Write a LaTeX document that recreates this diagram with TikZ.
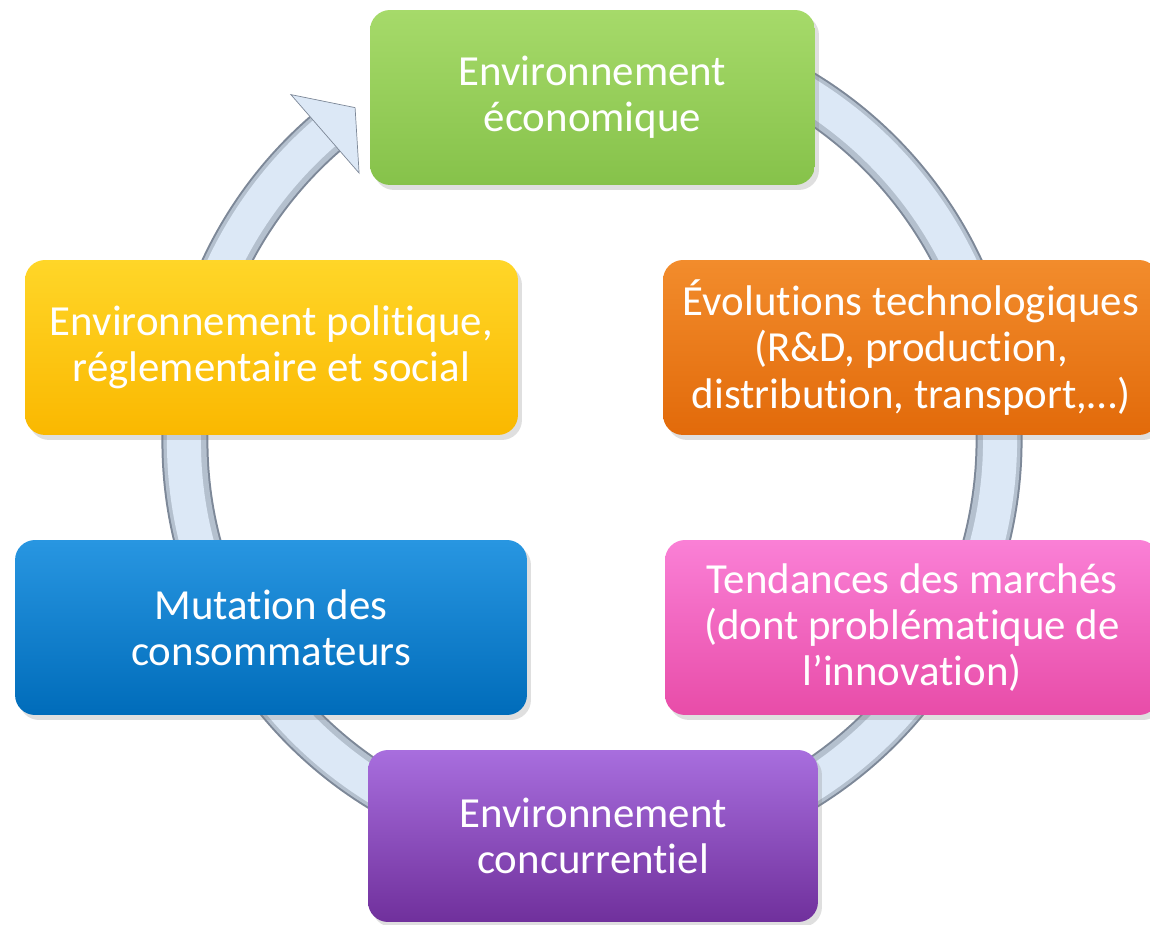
\documentclass[tikz,border=0pt]{standalone}
\usepackage{fontspec}
\setmainfont{Carlito}[Ligatures=NoCommon]
\usepackage{tikz}
\usetikzlibrary{calc}
\usetikzlibrary{shadows}

\definecolor{ringdark}{HTML}{7D8898}
\definecolor{ringmid}{HTML}{B4C0CE}
\definecolor{ringlight}{HTML}{DCE8F6}

\begin{document}
\begin{tikzpicture}[x=0.02cm, y=-0.02cm,
    cell/.style={rounded corners=0.4cm, align=center, text=white,
        font=\fontsize{24.4}{26.4}\selectfont, inner sep=0pt,
        drop shadow={opacity=0.25, shadow xshift=0.08cm, shadow yshift=-0.1cm}}]
    % Define the ring
    \def\r{407}  % mid radius of the ring
    \useasboundingbox (0,0) rectangle (1150,925);
    \coordinate (O) at (592,441);

    % Draw the circular arrow
    \draw[ringdark, line width=0.94cm] ($(O)+(-80:\r)$) arc[start angle=-80, end angle=229, radius=\r];
    \draw[ringmid, line width=0.86cm] ($(O)+(-80:\r)$) arc[start angle=-80, end angle=229, radius=\r];
    \draw[ringlight, line width=0.68cm] ($(O)+(-80:\r+1)$) arc[start angle=-80, end angle=229, radius=\r+1];
    \coordinate (H1) at ($(O)+(229:\r-52)$);
    \coordinate (H2) at ($(O)+(229:\r+52)$);
    \coordinate (T) at ($(O)+(234.6:\r+2)$);
    \draw[ringdark, fill=ringlight, line join=miter] (H1) -- (T) -- (H2) -- cycle;

    % Draw the boxes
    \node[cell, minimum width=8.9cm, minimum height=3.5cm, top color={rgb,255:red,166;green,218;blue,106}, bottom color={rgb,255:red,134;green,194;blue,74}]
        (eco) at (592.5,97.5) {Environnement\\économique};
    \node[cell, minimum width=9.92cm, minimum height=3.5cm, top color={rgb,255:red,242;green,140;blue,44}, bottom color={rgb,255:red,226;green,106;blue,10}]
        (tech) at (911,347.5) {Évolutions technologiques\\(R\&D, production,\\distribution, transport,…)};
    \node[cell, minimum width=9.88cm, minimum height=3.5cm, top color={rgb,255:red,250;green,128;blue,214}, bottom color={rgb,255:red,232;green,76;blue,168}]
        (march) at (912,627.5) {Tendances des marchés\\(dont problématique de\\l’innovation)};
    \node[cell, minimum width=9cm, minimum height=3.44cm, top color={rgb,255:red,168;green,110;blue,222}, bottom color={rgb,255:red,112;green,48;blue,156}]
        (conc) at (593,836) {Environnement\\concurrentiel};
    \node[cell, minimum width=10.24cm, minimum height=3.5cm, top color={rgb,255:red,40;green,150;blue,225}, bottom color={rgb,255:red,0;green,108;blue,186}]
        (cons) at (271,627.5) {Mutation des\\consommateurs};
    \node[cell, minimum width=9.86cm, minimum height=3.5cm, top color={rgb,255:red,255;green,214;blue,40}, bottom color={rgb,255:red,250;green,184;blue,0}]
        (poli) at (271.5,347.5) {Environnement politique,\\réglementaire et social};
\end{tikzpicture}
\end{document}
